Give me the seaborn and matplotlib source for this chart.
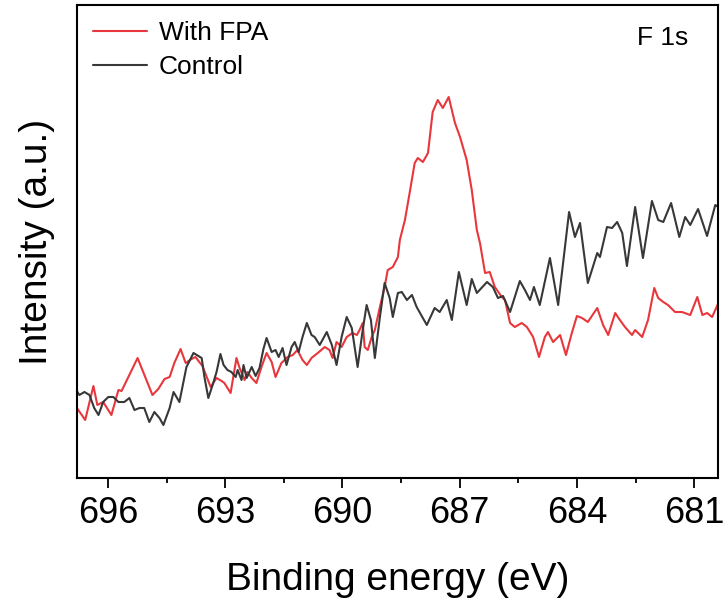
import numpy as np
import pandas as pd
import matplotlib
matplotlib.use("Agg")
import matplotlib.pyplot as plt
from matplotlib.ticker import MultipleLocator
from matplotlib.lines import Line2D
import seaborn as sns

# ---- data ----
fpa_energy = [696.81, 696.58, 696.37, 696.27, 696.12, 695.91, 695.73, 695.65, 695.24, 694.86,
              694.71, 694.55, 694.42, 694.30, 694.14, 694.01, 693.86, 693.76, 693.58, 693.37,
              693.22, 693.09, 693.02, 692.86, 692.71, 692.63, 692.50, 692.43, 692.32, 692.20,
              692.07, 691.94, 691.81, 691.71, 691.56, 691.40, 691.27, 691.15, 691.02, 690.91,
              690.79, 690.63, 690.45, 690.33, 690.25, 690.15, 690.02, 689.89, 689.74, 689.63,
              689.56, 689.48, 689.43, 689.35, 689.25, 689.17, 689.04, 688.92, 688.84, 688.71,
              688.58, 688.53, 688.40, 688.28, 688.15, 688.07, 687.94, 687.81, 687.69, 687.56,
              687.43, 687.28, 687.12, 686.99, 686.82, 686.69, 686.56, 686.48, 686.35, 686.23,
              686.10, 685.92, 685.84, 685.71, 685.59, 685.41, 685.28, 685.12, 684.97, 684.82,
              684.74, 684.61, 684.43, 684.28, 684.13, 684.00, 683.87, 683.72, 683.48, 683.33,
              683.20, 683.02, 682.90, 682.77, 682.59, 682.51, 682.33, 682.18, 682.02, 681.92,
              681.79, 681.67, 681.49, 681.31, 681.10, 680.92, 680.79, 680.67, 680.54, 680.38]
fpa_intensity = [71, 58, 92, 73, 76, 63, 88, 87, 120, 83,
                 89, 99, 101, 115, 129, 115, 119, 121, 112, 91,
                 100, 97, 95, 85, 120, 110, 98, 106, 100, 95,
                 111, 125, 116, 101, 115, 121, 123, 128, 118, 113,
                 120, 125, 131, 128, 120, 136, 131, 141, 145, 143,
                 148, 155, 131, 128, 141, 148, 171, 191, 208, 211,
                 221, 238, 258, 285, 315, 320, 316, 325, 366, 378,
                 370, 381, 355, 341, 318, 288, 248, 235, 205, 206,
                 191, 181, 178, 155, 151, 155, 151, 141, 121, 141,
                 146, 136, 143, 123, 145, 162, 160, 156, 170, 153,
                 143, 165, 158, 151, 143, 148, 141, 158, 190, 180,
                 176, 173, 166, 166, 163, 181, 163, 165, 161, 175]

ctrl_energy = [696.81, 696.73, 696.60, 696.47, 696.35, 696.24, 696.12, 695.99, 695.86, 695.73,
               695.58, 695.45, 695.32, 695.19, 695.07, 694.94, 694.81, 694.68, 694.58, 694.42,
               694.32, 694.17, 693.99, 693.81, 693.60, 693.53, 693.43, 693.32, 693.22, 693.12,
               693.04, 692.94, 692.84, 692.73, 692.68, 692.58, 692.53, 692.45, 692.32, 692.22,
               692.12, 692.02, 691.94, 691.81, 691.71, 691.63, 691.53, 691.43, 691.30, 691.22,
               691.12, 691.02, 690.91, 690.79, 690.71, 690.58, 690.40, 690.27, 690.15, 690.02,
               689.89, 689.76, 689.61, 689.48, 689.38, 689.27, 689.17, 689.04, 688.92, 688.79,
               688.71, 688.58, 688.48, 688.35, 688.22, 688.10, 687.84, 687.64, 687.51, 687.33,
               687.20, 687.02, 686.82, 686.69, 686.56, 686.30, 686.15, 686.02, 685.89, 685.71,
               685.46, 685.33, 685.20, 685.10, 684.95, 684.69, 684.48, 684.20, 684.05, 683.92,
               683.72, 683.48, 683.41, 683.23, 683.10, 682.97, 682.84, 682.72, 682.51, 682.31,
               682.08, 681.92, 681.79, 681.59, 681.38, 681.23, 681.10, 680.90, 680.67, 680.46,
               680.38]
ctrl_intensity = [88, 83, 86, 83, 70, 63, 76, 81, 81, 76,
                  76, 80, 68, 70, 70, 56, 66, 60, 53, 70,
                  86, 76, 111, 125, 120, 101, 80, 93, 106, 124,
                  113, 108, 106, 101, 108, 98, 113, 100, 111, 102,
                  110, 129, 140, 126, 128, 121, 130, 113, 131, 136,
                  126, 141, 155, 143, 141, 133, 146, 133, 113, 141,
                  161, 150, 111, 148, 173, 158, 120, 161, 195, 180,
                  161, 185, 186, 178, 183, 171, 153, 170, 166, 178,
                  158, 206, 173, 199, 185, 196, 191, 180, 182, 166,
                  197, 188, 178, 191, 173, 220, 173, 266, 241, 255,
                  195, 225, 221, 251, 250, 256, 245, 212, 271, 220,
                  277, 258, 256, 275, 241, 261, 253, 269, 242, 273,
                  271]

series_names = ["With FPA", "Control"]
tick_values = [696, 693, 690, 687, 684, 681]

df = pd.concat([
    pd.DataFrame({"Binding energy": fpa_energy, "Intensity": fpa_intensity, "Sample": series_names[0]}),
    pd.DataFrame({"Binding energy": ctrl_energy, "Intensity": ctrl_intensity, "Sample": series_names[1]}),
], ignore_index=True)

sns.set_style("ticks")
plt.rcParams["font.family"] = ["Liberation Sans", "DejaVu Sans"]
plt.rcParams["text.color"] = "black"
plt.rcParams["axes.labelcolor"] = "black"
plt.rcParams["xtick.color"] = "black"
plt.rcParams["ytick.color"] = "black"

fig = plt.figure(figsize=(7.28, 6.03), dpi=100)
ax = fig.add_axes([77 / 728, (603 - 478) / 603, (718 - 77) / 728, (478 - 5) / 603])

palette = {series_names[0]: "#e8373c", series_names[1]: "#383838"}
sns.lineplot(data=df, x="Binding energy", y="Intensity", hue="Sample", palette=palette,
             sort=False, estimator=None, linewidth=1.5, ax=ax, legend=False)

ax.set_xlim(696.79, 680.39)
ax.set_ylim(0, 473)
ax.set_xticks(tick_values)
ax.set_xticklabels([str(v) for v in tick_values])
ax.xaxis.set_minor_locator(MultipleLocator(1.5))
ax.set_yticks([])
ax.tick_params(axis="x", which="major", direction="out", length=7, width=1.3,
               labelsize=26, pad=6)
ax.tick_params(axis="x", which="minor", direction="out", length=3.5, width=1.3)
for s in ax.spines.values():
    s.set_visible(True)
    s.set_linewidth(1.5)
    s.set_color("black")

ax.set_xlabel("Binding energy (eV)", fontsize=28, labelpad=22)
ax.set_ylabel("Intensity (a.u.)", fontsize=28, labelpad=16)

handles = [Line2D([], [], color=palette[n], linewidth=1.5) for n in series_names]
ax.legend(handles, series_names, loc="upper left", frameon=False, fontsize=19,
          handlelength=2.05, handletextpad=0.45, labelspacing=0.4,
          borderaxespad=0.2, bbox_to_anchor=(0.0, 1.0))

ax.text(0.953, 0.930, "F 1s", transform=ax.transAxes, fontsize=19,
        ha="right", va="center")

fig.savefig("out.png", dpi=100)
